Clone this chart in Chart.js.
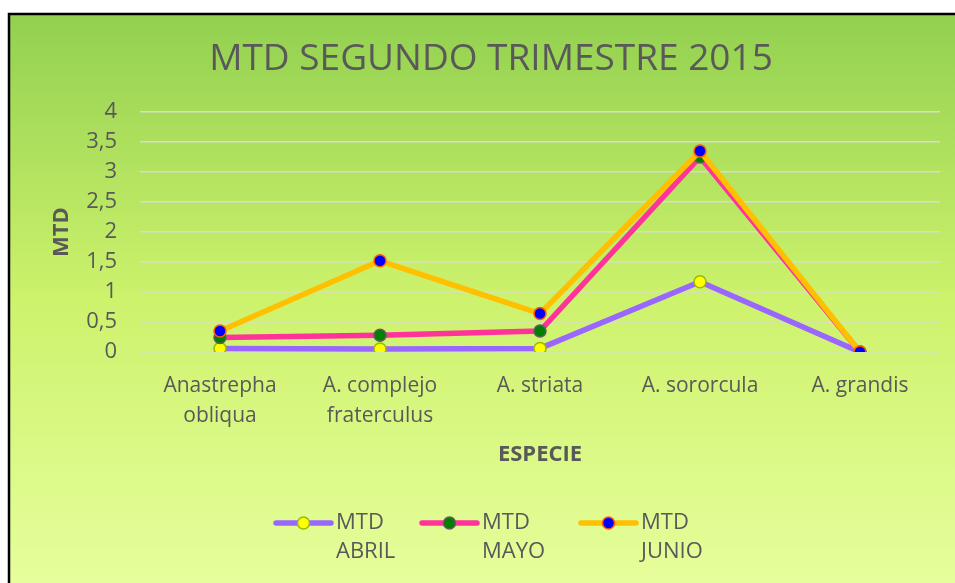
<!DOCTYPE html>
<html>
<head>
<meta charset="utf-8">
<script src="https://cdn.jsdelivr.net/npm/chart.js@4.4.1/dist/chart.umd.min.js"></script>
<style>
  html, body { margin: 0; padding: 0; background: #ffffff; }
  #wrap { width: 955px; height: 583px; position: relative; }
</style>
</head>
<body>
<div id="wrap"><canvas id="c" width="955" height="583"></canvas></div>
<script>
// ---- data ----
const categories = [['Anastrepha', 'obliqua'], ['A. complejo', 'fraterculus'], 'A. striata', 'A. sororcula', 'A. grandis'];
const seriesNames = [['MTD', 'ABRIL'], ['MTD', 'MAYO'], ['MTD', 'JUNIO']];
const abril = [0.06, 0.05, 0.06, 1.17, 0];
const mayo = [0.24, 0.28, 0.35, 3.25, 0];
const junio = [0.35, 1.52, 0.64, 3.35, 0];
const yTickValues = [0, 0.5, 1, 1.5, 2, 2.5, 3, 3.5, 4];
const yTickLabels = ['0', '0,5', '1', '1,5', '2', '2,5', '3', '3,5', '4'];
const chartTitle = 'MTD SEGUNDO TRIMESTRE 2015';
const yAxisTitle = 'MTD';
const xAxisTitle = 'ESPECIE';

// ---- layout (not data) ----
const legendItemX = [276, 422, 581];
const FONT = "'Open Sans', 'DejaVu Sans', sans-serif";
const TEXT = '#595959';

const bgPlugin = {
  id: 'bg',
  beforeDraw(chart) {
    const ctx = chart.ctx;
    ctx.save();
    ctx.fillStyle = '#ffffff';
    ctx.fillRect(0, 0, chart.width, chart.height);
    const g = ctx.createLinearGradient(0, 13, 0, chart.height);
    g.addColorStop(0, '#92d050');
    g.addColorStop(0.5, '#cdf26c');
    g.addColorStop(1, '#e6fe9c');
    ctx.fillStyle = g;
    ctx.fillRect(9, 14, chart.width - 9, chart.height - 14);
    ctx.strokeStyle = '#000000';
    ctx.lineWidth = 2.5;
    ctx.beginPath();
    ctx.moveTo(9, chart.height + 2);
    ctx.lineTo(9, 14);
    ctx.lineTo(chart.width + 2, 14);
    ctx.stroke();
    // title
    ctx.fillStyle = TEXT;
    ctx.font = "37px " + FONT;
    ctx.textAlign = 'center';
    ctx.textBaseline = 'middle';
    ctx.fillText(chartTitle, 491, 59);
    ctx.restore();
  }
};

const legendPlugin = {
  id: 'multiLegend',
  afterDraw(chart) {
    const ctx = chart.ctx;
    ctx.save();
    ctx.font = "22px " + FONT;
    ctx.textBaseline = 'middle';
    ctx.textAlign = 'left';
    const y1 = 523, lh = 29;
    chart.data.datasets.forEach((ds, k) => {
      const x = legendItemX[k];
      const lines = ds.label;
      ctx.strokeStyle = ds.borderColor;
      ctx.lineWidth = 5.5;
      ctx.lineCap = 'round';
      ctx.beginPath();
      ctx.moveTo(x, y1);
      ctx.lineTo(x + 55, y1);
      ctx.stroke();
      ctx.beginPath();
      ctx.arc(x + 27.5, y1, 6, 0, Math.PI * 2);
      ctx.fillStyle = ds.pointBackgroundColor;
      ctx.fill();
      ctx.lineWidth = 1.5;
      ctx.strokeStyle = ds.pointBorderColor;
      ctx.stroke();
      ctx.fillStyle = TEXT;
      lines.forEach((t, i) => {
        ctx.fillText(t, x + 60, y1 + i * lh);
      });
    });
    ctx.restore();
  }
};

new Chart(document.getElementById('c'), {
  type: 'line',
  data: {
    labels: categories,
    datasets: [
      { label: seriesNames[0], data: abril, borderColor: '#9966ff', pointBackgroundColor: '#ffff00', pointBorderColor: '#99bb00', order: 2 },
      { label: seriesNames[1], data: mayo, borderColor: '#ff3399', pointBackgroundColor: '#008000', pointBorderColor: '#5f5f5f', order: 1 },
      { label: seriesNames[2], data: junio, borderColor: '#ffc000', pointBackgroundColor: '#0000ff', pointBorderColor: '#ff5a00', order: 0 }
    ].map(d => Object.assign({
      borderWidth: 5.5, pointRadius: 6, pointHoverRadius: 6, pointBorderWidth: 1.5,
      tension: 0, fill: false, borderCapStyle: 'round', borderJoinStyle: 'round'
    }, d))
  },
  options: {
    responsive: false,
    animation: false,
    devicePixelRatio: 1,
    layout: { padding: { top: 112, left: 10, right: 15, bottom: 111 } },
    plugins: {
      legend: { display: false },
      tooltip: { enabled: false },
      title: { display: false }
    },
    scales: {
      x: {
        offset: true,
        grid: { display: false, drawTicks: false },
        border: { display: false },
        ticks: { color: TEXT, font: { family: FONT, size: 21, lineHeight: 1.42 }, padding: 19, maxRotation: 0, autoSkip: false },
        title: { display: true, text: xAxisTitle, color: TEXT, font: { family: FONT, size: 22, weight: 'bold', lineHeight: 1.1 }, padding: { top: 0, bottom: 5 } },
        afterFit(scale) { scale.height = 120; }
      },
      y: {
        min: 0, max: 4,
        afterBuildTicks(scale) { scale.ticks = yTickValues.map(v => ({ value: v })); },
        grid: { color: '#d9d9d9', lineWidth: 1.6, drawTicks: false },
        border: { display: false },
        ticks: {
          color: TEXT, font: { family: FONT, size: 22 }, padding: 23,
          callback: (v) => yTickLabels[yTickValues.indexOf(v)]
        },
        title: { display: true, text: yAxisTitle, color: TEXT, font: { family: FONT, size: 22, weight: 'bold', lineHeight: 1.1 }, padding: { top: 40, bottom: 0 } },
        afterFit(scale) { scale.width = 130; }
      }
    }
  },
  plugins: [bgPlugin, legendPlugin]
});
</script>
</body>
</html>
